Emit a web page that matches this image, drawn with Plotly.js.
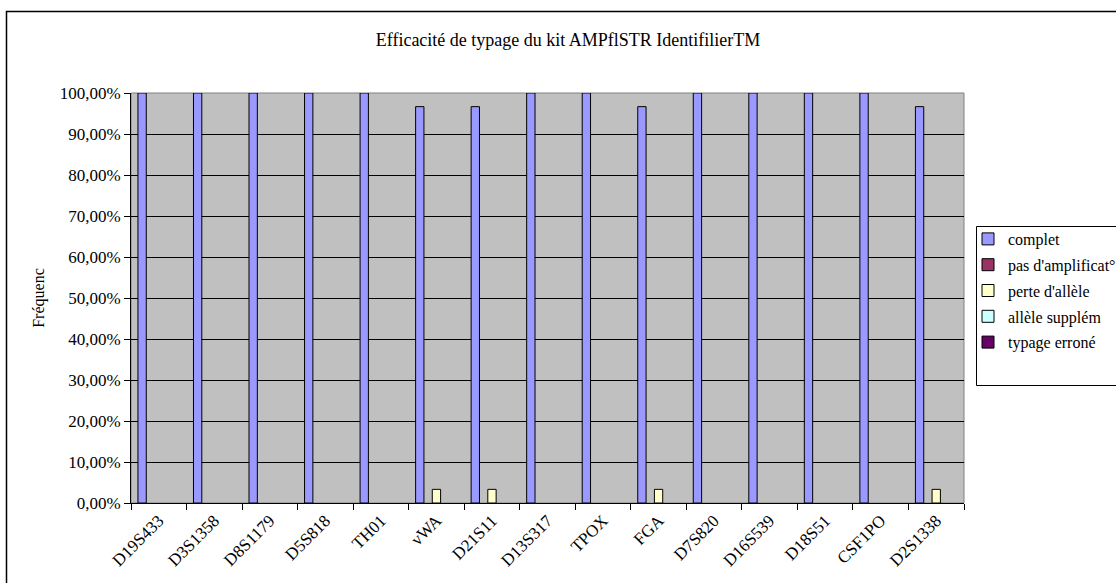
<!DOCTYPE html>
<html>
<head>
<meta charset="utf-8">
<script src="https://cdn.plot.ly/plotly-3.0.1.min.js"></script>
<style>
html,body{margin:0;padding:0;background:#fff;}
#chart{width:1116px;height:583px;}
</style>
</head>
<body>
<div id="chart"></div>
<script>
const categories = ["D19S433","D3S1358","D8S1179","D5S818","TH01","vWA","D21S11","D13S317","TPOX","FGA","D7S820","D16S539","D18S51","CSF1PO","D2S1338"];
const complet = [1,1,1,1,1,0.9667,0.9667,1,1,0.9667,1,1,1,1,0.9667];
const pasAmplification = [0,0,0,0,0,0,0,0,0,0,0,0,0,0,0];
const perteAllele = [0,0,0,0,0,0.0333,0.0333,0,0,0.0333,0,0,0,0,0.0333];
const alleleSupplem = [0,0,0,0,0,0,0,0,0,0,0,0,0,0,0];
const typageErrone = [0,0,0,0,0,0,0,0,0,0,0,0,0,0,0];

const seriesNames = ["complet","pas d'amplificat°","perte d'allèle","allèle supplém","typage erroné"];
const seriesValues = [complet, pasAmplification, perteAllele, alleleSupplem, typageErrone];
const seriesColors = ["#9999FF","#993366","#FFFFCC","#CCFFFF","#660066"];
const titleText = "Efficacité de typage du kit AMPflSTR IdentifilierTM";

const FONT = "Liberation Serif";
function serif(t){ return '<span style="font-family:Liberation Serif">' + t + '</span>'; }

const traces = seriesNames.map((n,i)=>({
  type:'bar', name:serif(n), x:categories, y:seriesValues[i].map(v=>v===0?null:v),
  marker:{color:seriesColors[i], line:{color:'#000', width:1}},
  legendgroup:'g'+i, hoverinfo:'x+y'
}));

const L=131, R=964, T=93, B=503, W=1116, H=583;
const pw=R-L, ph=B-T;
function px(x){return (x-L)/pw;}
function py(y){return (B-y)/ph;}

const layout = {
  width:W, height:H,
  margin:{l:L, r:W-R, t:T, b:H-B, pad:0},
  paper_bgcolor:'#fff', plot_bgcolor:'#C0C0C0',
  separators:',.',
  font:{family:FONT, size:16, color:'#000'},
  title:{text:serif(titleText), font:{family:FONT, size:18, color:'#000'},
    xref:'container', x:0.509, xanchor:'center', yref:'container', y:1-40/583, yanchor:'middle'},
  barmode:'group', bargap:0.25, bargroupgap:0,
  showlegend:true,
  legend:{xref:'container', yref:'container', x:968/W, y:1-222/H, xanchor:'left', yanchor:'top',
    bgcolor:'rgba(0,0,0,0)', borderwidth:0, font:{family:FONT, size:16, color:'#000'},
    traceorder:'grouped', tracegroupgap:2, itemwidth:30},
  xaxis:{type:'category', tickson:'boundaries', ticks:'outside', ticklen:6, tickcolor:'#000',
    tickangle:-45, showline:true, linecolor:'#000', linewidth:1, showgrid:false, zeroline:false,
    tickfont:{family:FONT, size:17, color:'#000'}, fixedrange:true},
  yaxis:{range:[0,1], tickvals:[0,0.1,0.2,0.3,0.4,0.5,0.6,0.7,0.8,0.9,1], tickformat:'.2%',
    ticks:'outside', ticklen:6, tickcolor:'#000', showline:true, linecolor:'#000', linewidth:1,
    showgrid:true, gridcolor:'#000', gridwidth:1, zeroline:false,
    tickfont:{family:FONT, size:17, color:'#000'},
    title:{text:'Fréquenc', font:{family:FONT, size:16, color:'#000'}, standoff:11}, fixedrange:true},
  shapes:[
    {type:'rect', xref:'paper', yref:'paper', x0:0, x1:1, y0:0, y1:1, line:{color:'#808080', width:1}, layer:'below'},
    {type:'rect', xref:'paper', yref:'paper', x0:px(976.5), x1:px(1130), y0:py(226.5), y1:py(385.5), line:{color:'#000', width:1}, fillcolor:'#fff', layer:'above'},
    {type:'rect', xref:'paper', yref:'paper', x0:px(6.5), x1:px(1125), y0:py(11.5), y1:py(595), line:{color:'#000', width:1.5}, fillcolor:'rgba(0,0,0,0)', layer:'above'}
  ]
};

Plotly.newPlot('chart', traces, layout, {displayModeBar:false, staticPlot:true});
</script>
</body>
</html>
